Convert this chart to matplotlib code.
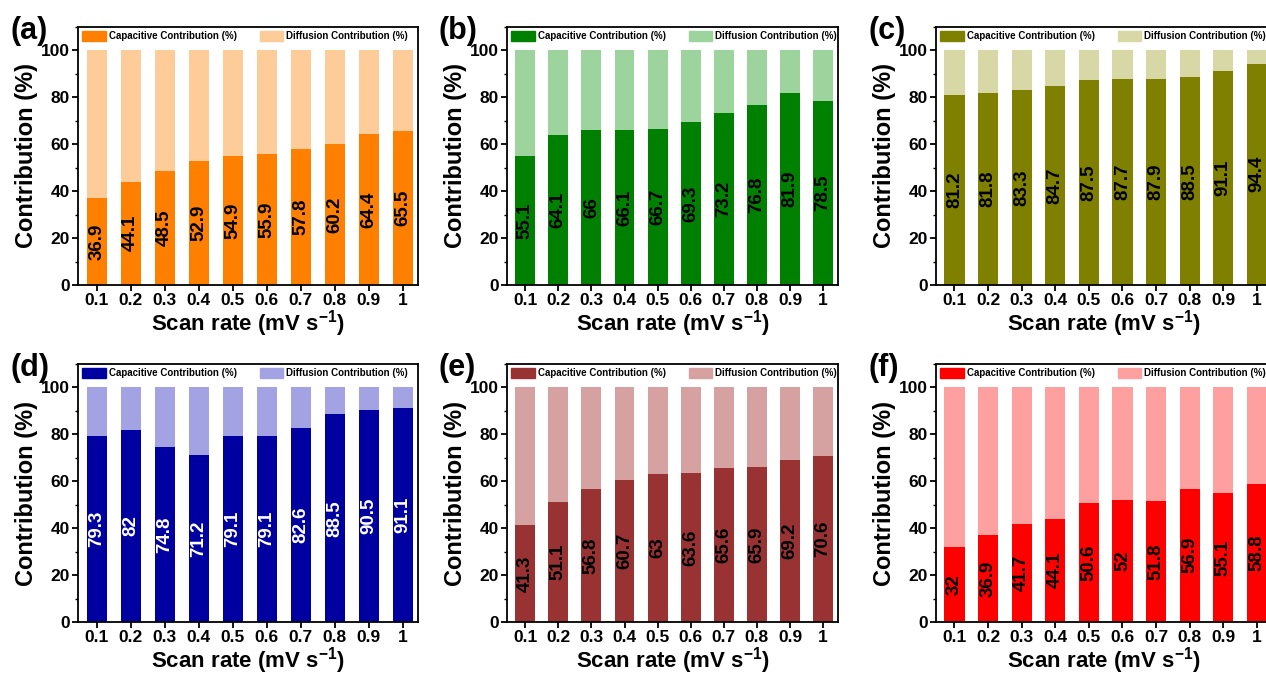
import matplotlib.pyplot as plt
import numpy as np
from matplotlib.ticker import MultipleLocator
from matplotlib.patches import Patch

plt.rcParams['font.family'] = ['Liberation Sans', 'DejaVu Sans']
plt.rcParams['mathtext.fontset'] = 'custom'
plt.rcParams['mathtext.rm'] = 'Liberation Sans:bold'
plt.rcParams['mathtext.default'] = 'rm'

scan_rates = ['0.1', '0.2', '0.3', '0.4', '0.5', '0.6', '0.7', '0.8', '0.9', '1']

cap_a = [36.9, 44.1, 48.5, 52.9, 54.9, 55.9, 57.8, 60.2, 64.4, 65.5]
cap_b = [55.1, 64.1, 66, 66.1, 66.7, 69.3, 73.2, 76.8, 81.9, 78.5]
cap_c = [81.2, 81.8, 83.3, 84.7, 87.5, 87.7, 87.9, 88.5, 91.1, 94.4]
cap_d = [79.3, 82, 74.8, 71.2, 79.1, 79.1, 82.6, 88.5, 90.5, 91.1]
cap_e = [41.3, 51.1, 56.8, 60.7, 63, 63.6, 65.6, 65.9, 69.2, 70.6]
cap_f = [32, 36.9, 41.7, 44.1, 50.6, 52, 51.8, 56.9, 55.1, 58.8]

# (tag, values, capacitive colour, diffusion colour, label colour, box in pixels l, t, r, b)
panels = [
    ('(a)', cap_a, '#ff8000', '#fdcc99', 'black', (78, 27, 418, 285)),
    ('(b)', cap_b, '#008000', '#9dd49d', 'black', (507, 27, 838, 285)),
    ('(c)', cap_c, '#808000', '#d8d8a6', 'black', (936, 27, 1272, 285)),
    ('(d)', cap_d, '#0000a0', '#a3a3e3', 'white', (78, 364, 418, 622)),
    ('(e)', cap_e, '#993333', '#d5a1a1', 'black', (507, 364, 838, 622)),
    ('(f)', cap_f, '#ff0000', '#ffa0a0', 'black', (936, 364, 1272, 622)),
]

W, H = 1266, 675
fig = plt.figure(figsize=(W / 100, H / 100), dpi=100)

for tag, cap, c1, c2, tc, (l, t, r, b) in panels:
    ax = fig.add_axes([l / W, 1 - b / H, (r - l) / W, (b - t) / H])
    x = np.arange(len(scan_rates))
    cap = np.array(cap)
    dif = 100 - cap
    ax.bar(x, cap, width=0.6, color=c1, zorder=2)
    ax.bar(x, dif, width=0.6, bottom=cap, color=c2, zorder=2)
    for xi, v in zip(x, cap):
        ax.text(xi, v / 2, f'{v:g}', rotation=90, ha='center', va='center',
                fontsize=13.5, fontweight='bold', color=tc)
    ax.set_xlim(-0.55, 9.45)
    ax.set_ylim(0, 110)
    ax.set_xticks(x)
    ax.set_xticklabels(scan_rates)
    ax.yaxis.set_major_locator(MultipleLocator(20))
    ax.yaxis.set_minor_locator(MultipleLocator(10))
    ax.tick_params(axis='both', which='major', labelsize=12.5, width=1.3, length=4, pad=2)
    ax.tick_params(axis='y', which='minor', width=1.0, length=2.5)
    for lab in ax.get_xticklabels() + ax.get_yticklabels():
        lab.set_fontweight('bold')
    for s in ax.spines.values():
        s.set_linewidth(1.3)
    ax.set_ylabel('Contribution (%)', fontsize=17, fontweight='bold', labelpad=2)
    ax.set_xlabel('Scan rate (mV s$^{-1}$)', fontsize=16, fontweight='bold', labelpad=0)
    handles = [Patch(color=c1, label='Capacitive Contribution (%)'),
               Patch(color=c2, label='Diffusion Contribution (%)')]
    ax.legend(handles=handles, loc='upper left', ncol=2, frameon=False,
              prop={'size': 7.0, 'weight': 'bold'}, handlelength=2.4, handleheight=1.1,
              columnspacing=2.4, borderaxespad=0.25, borderpad=0.2, handletextpad=0.3)
    fig.text((l - 68) / W, 1 - (t + 4) / H, tag, fontsize=22, fontweight='bold',
             va='center', ha='left')

fig.savefig('out.png', dpi=100)
